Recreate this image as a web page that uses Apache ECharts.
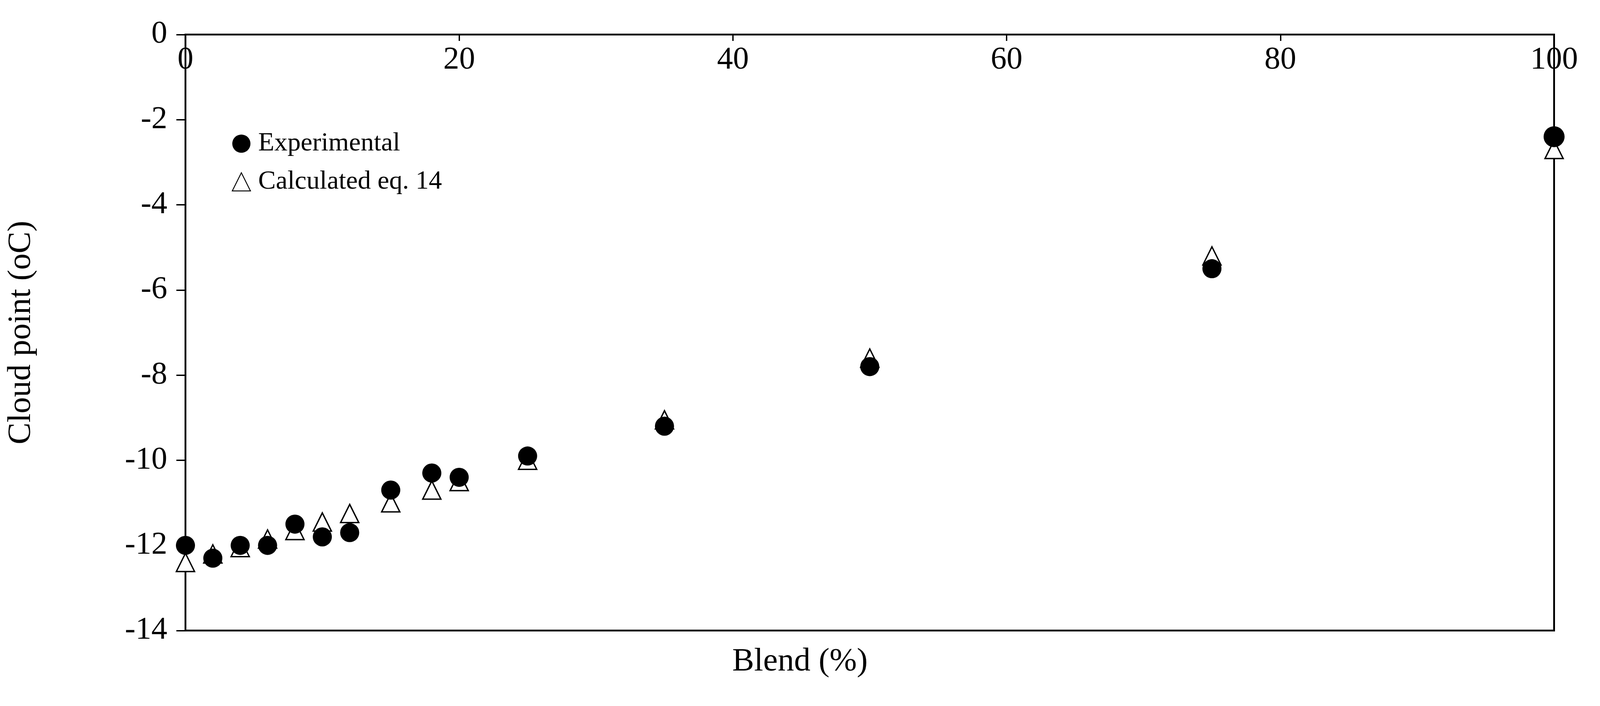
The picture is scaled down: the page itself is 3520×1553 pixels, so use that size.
<!DOCTYPE html>
<html><head><meta charset="utf-8">
<script src="https://cdn.jsdelivr.net/npm/echarts@6/dist/echarts.min.js"></script>
<style>html,body{margin:0;padding:0;background:#fff}#c{width:3520px;height:1553px}</style>
</head><body><div id="c"></div>
<script>
const blend = [0,2,4,6,8,10,12,15,18,20,25,35,50,75,100];
const experimental = [-12,-12.3,-12,-12,-11.5,-11.8,-11.7,-10.7,-10.3,-10.4,-9.9,-9.2,-7.8,-5.5,-2.4];
const calculated = [-12.4,-12.2,-12.05,-11.85,-11.65,-11.45,-11.25,-11.0,-10.7,-10.5,-10.0,-9.05,-7.6,-5.2,-2.7];
const font = '"Liberation Serif","DejaVu Serif",serif';
const chart = echarts.init(document.getElementById('c'));
chart.setOption({
  backgroundColor:'#fff',
  textStyle:{fontFamily:font},
  grid:{left:408,right:101,top:76,bottom:166,show:true,borderColor:'#000',borderWidth:4,backgroundColor:'transparent'},
  legend:{orient:'vertical',left:505,top:282,itemGap:26,itemWidth:40,itemHeight:40,
    textStyle:{fontFamily:font,fontSize:58,color:'#000',padding:[0,0,0,12]},
    data:[{name:'Experimental',icon:'circle'},{name:'Calculated eq. 14',icon:'triangle'}]},
  graphic:[{type:'text',left:'center',top:1420,style:{text:'Blend (%)',font:'72px '+font,fill:'#000'},x:40}],
  xAxis:{type:'value',position:'top',min:0,max:100,interval:20,
    axisLine:{show:true,lineStyle:{color:'#000',width:3}},
    axisTick:{show:true,inside:true,length:14,lineStyle:{color:'#000',width:3}},
    axisLabel:{inside:true,margin:22,fontSize:70,color:'#000',fontFamily:font,verticalAlign:'top'},
    splitLine:{show:false}},
  yAxis:{type:'value',min:-14,max:0,interval:2,name:'Cloud point (oC)',nameLocation:'middle',nameGap:325,
    nameTextStyle:{fontSize:72,color:'#000',fontFamily:font},
    axisLine:{show:true,lineStyle:{color:'#000',width:3}},
    axisTick:{show:true,length:20,lineStyle:{color:'#000',width:3}},
    axisLabel:{margin:40,fontSize:70,color:'#000',fontFamily:font},
    splitLine:{show:false}},
  series:[
    {name:'Calculated eq. 14',type:'scatter',symbol:'triangle',symbolSize:40,z:2,
     itemStyle:{color:'#fff',borderColor:'#000',borderWidth:3,opacity:1},
     data:blend.map((b,i)=>[b,calculated[i]])},
    {name:'Experimental',type:'scatter',symbol:'circle',symbolSize:42,z:3,
     itemStyle:{color:'#000',opacity:1},
     data:blend.map((b,i)=>[b,experimental[i]])}
  ]
});
</script></body></html>
